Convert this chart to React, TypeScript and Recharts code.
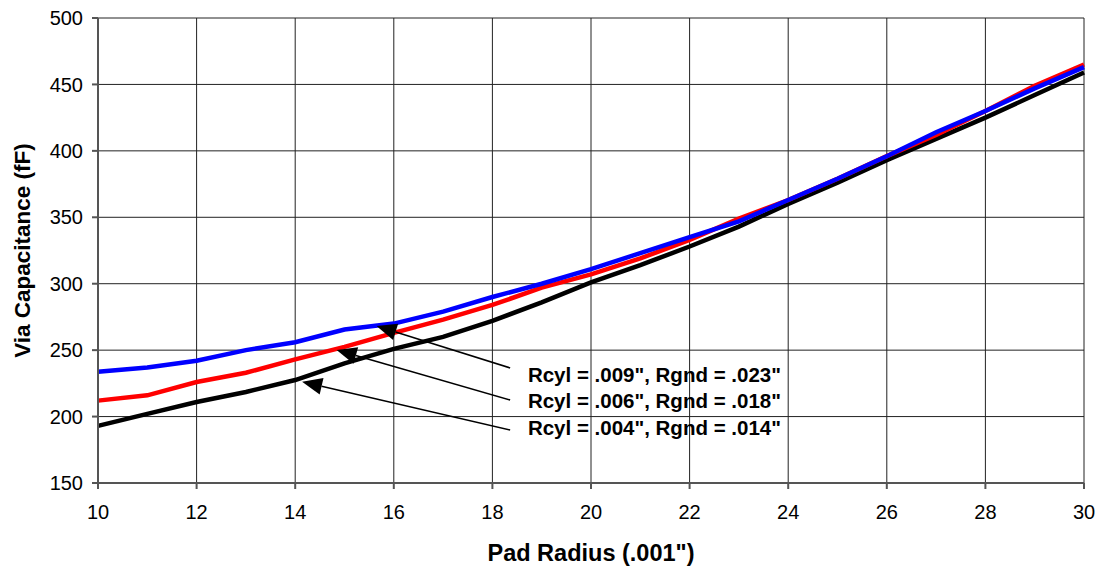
import { LineChart, Line, XAxis, YAxis, CartesianGrid, ReferenceLine, ReferenceDot } from 'recharts';

// pad radius in thousandths of an inch
const padRadius = [10, 11, 12, 13, 14, 15, 16, 17, 18, 19, 20, 21, 22, 23, 24, 25, 26, 27, 28, 29, 30];

// via capacitance (fF) for each cylinder / ground radius pair
const cap009 = [233.8, 237, 242, 250, 256, 265.5, 270, 279, 290, 300, 311, 323, 335, 347, 363, 379, 396, 414, 430, 447, 463];
const cap006 = [212, 216, 226, 233, 243, 252.5, 263, 273, 284, 297, 307, 319, 333, 349, 363, 379, 396, 412, 430, 449, 465];
const cap004 = [193, 202, 211, 218.5, 227.5, 240, 251, 260, 272, 286, 301, 314, 328, 343, 360, 376, 393, 409, 425, 442, 459];

const xTicks = [10, 12, 14, 16, 18, 20, 22, 24, 26, 28, 30];
const yTicks = [150, 200, 250, 300, 350, 400, 450, 500];

// callouts: caption anchor, leader start and arrow tip, all in data units
const callouts = [
  { text: 'Rcyl = .009", Rgnd = .023"', at: { x: 18.72, y: 226.0 }, from: { x: 18.36, y: 236.6 }, to: { x: 15.65, y: 268.2 } },
  { text: 'Rcyl = .006", Rgnd = .018"', at: { x: 18.72, y: 206.1 }, from: { x: 18.36, y: 212.5 }, to: { x: 14.84, y: 250.1 } },
  { text: 'Rcyl = .004", Rgnd = .014"', at: { x: 18.72, y: 186.1 }, from: { x: 18.36, y: 189.9 }, to: { x: 14.14, y: 226.2 } },
];

const data = padRadius.map((r, i) => ({
  r,
  c009: cap009[i],
  c006: cap006[i],
  c004: cap004[i],
}));

const FONT = 'Arial, "Liberation Sans", sans-serif';

// leader line ending in a filled arrowhead
const arrowShape = (props: any) => {
  const { x1, y1, x2, y2 } = props;
  const dx = x2 - x1;
  const dy = y2 - y1;
  const len = Math.sqrt(dx * dx + dy * dy);
  const ux = dx / len;
  const uy = dy / len;
  const headLen = 20;
  const halfW = 8.5;
  const bx = x2 - ux * headLen;
  const by = y2 - uy * headLen;
  const pts = [
    `${x2},${y2}`,
    `${bx - uy * halfW},${by + ux * halfW}`,
    `${bx + uy * halfW},${by - ux * halfW}`,
  ].join(' ');
  return (
    <g>
      <line x1={x1} y1={y1} x2={bx} y2={by} stroke="#000" strokeWidth={1.5} />
      <polygon points={pts} fill="#000" />
    </g>
  );
};

const captionShape = (text: string) => (props: any) => (
  <text x={props.cx} y={props.cy} fontFamily={FONT} fontSize={20.5} fontWeight="bold" fill="#000">
    {text}
  </text>
);

const XTitle = ({ viewBox }: any) => (
  <text
    x={viewBox.x + viewBox.width / 2}
    y={viewBox.y + 77.5}
    textAnchor="middle"
    fontFamily={FONT}
    fontSize={23.5}
    fontWeight="bold"
    fill="#000"
  >
    Pad Radius (.001")
  </text>
);

const YTitle = ({ viewBox }: any) => {
  const cy = viewBox.y + viewBox.height / 2;
  return (
    <text
      x={30}
      y={cy}
      transform={`rotate(-90, 30, ${cy})`}
      textAnchor="middle"
      fontFamily={FONT}
      fontSize={22.5}
      fontWeight="bold"
      fill="#000"
    >
      Via Capacitance (fF)
    </text>
  );
};

export default function App() {
  return (
    <div style={{ position: 'absolute', left: 0, top: 0, background: '#fff' }}>
      <LineChart width={1105} height={567} data={data} margin={{ top: 18, right: 21, bottom: 0, left: 0 }}>
        <CartesianGrid stroke="#222" strokeWidth={1} />
        <XAxis
          dataKey="r"
          type="number"
          domain={[10, 30]}
          ticks={xTicks}
          height={84}
          tick={{ fontFamily: FONT, fontSize: 20, fill: '#000' }}
          tickSize={6}
          tickMargin={16}
          stroke="#555"
          strokeWidth={2}
          label={<XTitle />}
        />
        <YAxis
          type="number"
          domain={[150, 500]}
          ticks={yTicks}
          width={98}
          tick={{ fontFamily: FONT, fontSize: 20, fill: '#000' }}
          tickSize={6}
          tickMargin={9}
          stroke="#555"
          strokeWidth={2}
          label={<YTitle />}
        />
        <Line dataKey="c004" type="linear" stroke="#000" strokeWidth={4.5} dot={false} isAnimationActive={false} />
        <Line dataKey="c006" type="linear" stroke="#ff0000" strokeWidth={4.5} dot={false} isAnimationActive={false} />
        <Line dataKey="c009" type="linear" stroke="#0000ff" strokeWidth={4.5} dot={false} isAnimationActive={false} />
        {callouts.map((c) => (
          <ReferenceLine key={`l-${c.text}`} segment={[c.from, c.to]} shape={arrowShape} />
        ))}
        {callouts.map((c) => (
          <ReferenceDot key={`t-${c.text}`} x={c.at.x} y={c.at.y} r={0} shape={captionShape(c.text)} />
        ))}
      </LineChart>
    </div>
  );
}
